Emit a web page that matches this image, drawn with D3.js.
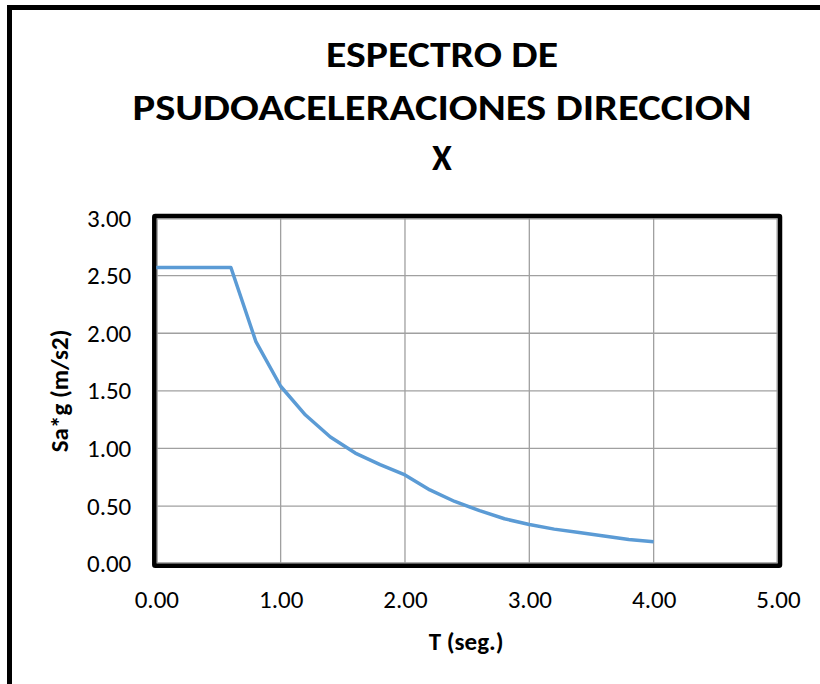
<!DOCTYPE html>
<html>
<head>
<meta charset="utf-8">
<script src="https://cdn.jsdelivr.net/npm/d3@7"></script>
<style>
  html, body { margin: 0; padding: 0; background: #fff; }
  svg { display: block; }
  text { font-family: Carlito, Calibri, Lato, sans-serif; fill: #000; }
</style>
</head>
<body>
<svg id="chart" width="820" height="684"></svg>
<script>
// Spectrum of pseudo-accelerations, X direction
const periods = [0.00, 0.60, 0.80, 1.00, 1.20, 1.40, 1.60, 1.80, 2.00, 2.20, 2.40, 2.60, 2.80, 3.00, 3.20, 3.40, 3.60, 3.80, 4.00];
const saValues = [2.57, 2.57, 1.93, 1.54, 1.29, 1.10, 0.96, 0.86, 0.77, 0.64, 0.54, 0.46, 0.39, 0.34, 0.30, 0.27, 0.24, 0.21, 0.19];
const xTicks = [0, 1, 2, 3, 4, 5];
const yTicks = [0, 0.5, 1, 1.5, 2, 2.5, 3];
const titleLines = ["ESPECTRO DE", "PSUDOACELERACIONES DIRECCION", "X"];
const xTitle = "T (seg.)";
const yTitle = "Sa*g (m/s2)";

const svg = d3.select("#chart");
const plot = { left: 156.3, right: 778, top: 218, bottom: 563.7 };

const x = d3.scaleLinear().domain([0, 5]).range([plot.left, plot.right]);
const y = d3.scaleLinear().domain([0, 3]).range([plot.bottom, plot.top]);

// outer chart frame
svg.append("rect")
  .attr("x", 9.5).attr("y", 7.5)
  .attr("width", 840).attr("height", 720)
  .attr("fill", "none").attr("stroke", "#000").attr("stroke-width", 5);

// title, three centred lines
const titleBaselines = [67, 120, 170];
const titleWidths = [232, 619, null];
titleLines.forEach((line, i) => {
  const t = svg.append("text")
    .attr("x", 442).attr("y", titleBaselines[i])
    .attr("text-anchor", "middle")
    .style("font-weight", "bold")
    .style("font-size", "36px")
    .text(line);
  if (titleWidths[i]) t.attr("textLength", titleWidths[i]).attr("lengthAdjust", "spacingAndGlyphs");
});

// gridlines
const grid = svg.append("g");
grid.selectAll("line.v").data(xTicks).join("line")
  .attr("x1", d => x(d)).attr("x2", d => x(d))
  .attr("y1", plot.top).attr("y2", plot.bottom)
  .attr("stroke", "#a0a0a0").attr("stroke-width", 1.3);
grid.selectAll("line.h").data(yTicks).join("line")
  .attr("x1", plot.left).attr("x2", plot.right)
  .attr("y1", d => y(d)).attr("y2", d => y(d))
  .attr("stroke", "#a0a0a0").attr("stroke-width", 1.3);

// axes (labels only)
const fmt = d3.format(".2f");
const xAxis = svg.append("g")
  .attr("transform", `translate(0,${plot.bottom + 36})`)
  .call(d3.axisBottom(x).tickValues(xTicks).tickFormat(fmt).tickSize(0).tickPadding(0));
const yAxis = svg.append("g")
  .attr("transform", `translate(${plot.left - 25},0)`)
  .call(d3.axisLeft(y).tickValues(yTicks).tickFormat(fmt).tickSize(0).tickPadding(0));
[xAxis, yAxis].forEach(a => {
  a.select(".domain").remove();
  a.selectAll("text")
    .style("font-family", "Carlito, Calibri, Lato, sans-serif")
    .style("font-size", "25px")
    .attr("fill", "#000");
});
xAxis.selectAll("text").attr("dy", "0.35em");

// plot frame: heavy black border with a thin inner rule
svg.append("rect")
  .attr("x", plot.left - 2).attr("y", plot.top - 2)
  .attr("width", plot.right - plot.left + 4).attr("height", plot.bottom - plot.top + 4)
  .attr("fill", "none").attr("stroke", "#000").attr("stroke-width", 4.5)
  .attr("rx", 1);
svg.append("rect")
  .attr("x", plot.left + 1).attr("y", plot.top + 1)
  .attr("width", plot.right - plot.left - 2).attr("height", plot.bottom - plot.top - 2)
  .attr("fill", "none").attr("stroke", "#9a9a9a").attr("stroke-width", 1);

// series
const line = d3.line().x((d, i) => x(periods[i])).y(d => y(d));
svg.append("path")
  .datum(saValues)
  .attr("d", line)
  .attr("fill", "none")
  .attr("stroke", "#5b9bd5")
  .attr("stroke-width", 3.5)
  .attr("stroke-linejoin", "round");

// axis titles
svg.append("text")
  .attr("x", (plot.left + plot.right) / 2 - 1).attr("y", 650)
  .attr("text-anchor", "middle")
  .style("font-weight", "bold").style("font-size", "25px")
  .text(xTitle);
svg.append("text")
  .attr("transform", `translate(68,${(plot.top + plot.bottom) / 2}) rotate(-90)`)
  .attr("text-anchor", "middle")
  .style("font-weight", "bold").style("font-size", "25px")
  .text(yTitle);
</script>
</body>
</html>
